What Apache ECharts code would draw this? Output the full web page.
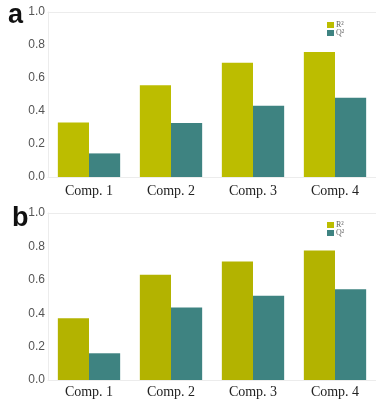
<!DOCTYPE html>
<html>
<head>
<meta charset="utf-8">
<script src="https://cdn.jsdelivr.net/npm/echarts@6/dist/echarts.min.js"></script>
<style>
html,body{margin:0;padding:0;background:#fff;}
#main{width:376px;height:403px;}
</style>
</head>
<body>
<div id="main"></div>
<script>
var categories = ['Comp. 1', 'Comp. 2', 'Comp. 3', 'Comp. 4'];
var yTicks = ['0.0', '0.2', '0.4', '0.6', '0.8', '1.0'];
var seriesNames = ['R²', 'Q²'];
var aR2 = [0.331, 0.556, 0.693, 0.758];
var aQ2 = [0.143, 0.327, 0.432, 0.481];
var bR2 = [0.370, 0.630, 0.710, 0.776];
var bQ2 = [0.160, 0.434, 0.504, 0.544];
var panelLabels = ['a', 'b'];

var colR2a = '#bcbd00', colR2b = '#b3b300', colQ2 = '#3e8381';

var chart = echarts.init(document.getElementById('main'), null, {renderer: 'canvas'});

function yAxisDef(gi) {
  return {
    type: 'value', gridIndex: gi, min: 0, max: 1, interval: 0.2,
    axisLine: {show: true, lineStyle: {color: '#ececec', width: 1}},
    axisTick: {show: false},
    splitLine: {show: false},
    axisLabel: {
      margin: 3, color: '#555', fontFamily: 'Liberation Sans, Arial, sans-serif', fontSize: 12,
      formatter: function (v) { return yTicks[Math.round(v / 0.2)] || ''; }
    }
  };
}
function xAxisDef(gi, margin) {
  return {
    type: 'category', gridIndex: gi, data: categories,
    axisLine: {show: true, lineStyle: {color: '#ececec', width: 1}},
    axisTick: {show: false},
    axisLabel: {margin: margin, color: '#222', fontFamily: 'Liberation Serif, Times New Roman, serif', fontSize: 14}
  };
}
function topAxisDef(gi) {
  return {
    type: 'category', gridIndex: gi, position: 'top', data: categories,
    axisLine: {show: true, lineStyle: {color: '#ececec', width: 1}},
    axisTick: {show: false}, axisLabel: {show: false}
  };
}
function legendDef(top) {
  return {
    data: seriesNames, orient: 'vertical', left: 327, top: top,
    itemWidth: 7, itemHeight: 6, itemGap: 0, padding: 0,
    icon: 'rect',
    textStyle: {fontFamily: 'Liberation Serif, Times New Roman, serif', fontSize: 8, color: '#666', lineHeight: 6, padding: [0, 0, 0, -3]}
  };
}
function bar(name, xi, yi, data, color) {
  return {
    name: name, type: 'bar', xAxisIndex: xi, yAxisIndex: yi, data: data,
    barGap: '0%', barCategoryGap: '24%', itemStyle: {color: color},
    emphasis: {disabled: true}, animation: false
  };
}

chart.setOption({
  animation: false,
  title: [
    {text: panelLabels[0], left: 8, top: 2, padding: 0, textStyle: {fontFamily: 'Liberation Sans, Arial, sans-serif', fontWeight: 'bold', fontSize: 27, color: '#111'}},
    {text: panelLabels[1], left: 12, top: 205, padding: 0, textStyle: {fontFamily: 'Liberation Sans, Arial, sans-serif', fontWeight: 'bold', fontSize: 27, color: '#111'}}
  ],
  legend: [legendDef(21), legendDef(221)],
  grid: [
    {left: 48, right: -8, top: 12, height: 165},
    {left: 48, right: -8, top: 213, height: 167}
  ],
  xAxis: [xAxisDef(0, 7), xAxisDef(1, 5), topAxisDef(0), topAxisDef(1)],
  yAxis: [yAxisDef(0), yAxisDef(1)],
  series: [
    bar(seriesNames[0], 0, 0, aR2, colR2a),
    bar(seriesNames[1], 0, 0, aQ2, colQ2),
    bar(seriesNames[0], 1, 1, bR2, colR2b),
    bar(seriesNames[1], 1, 1, bQ2, colQ2)
  ]
});
</script>
</body>
</html>
